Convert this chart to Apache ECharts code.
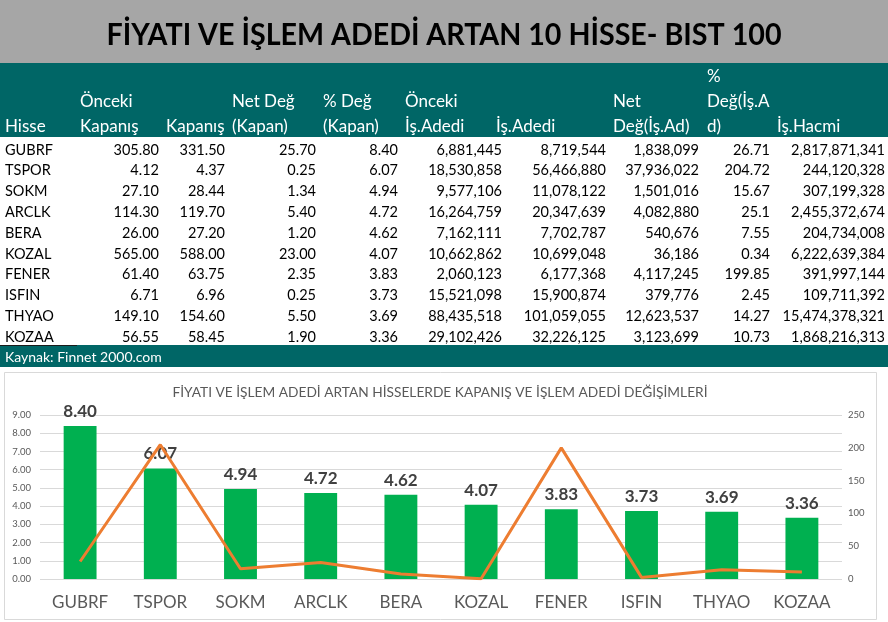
<!DOCTYPE html>
<html><head><meta charset="utf-8">
<script src="https://cdn.jsdelivr.net/npm/echarts@6/dist/echarts.min.js"></script>
<style>html,body{margin:0;padding:0;background:#fff}#c{width:888px;height:622px}</style>
</head><body><div id="c"></div>
<script>
// ---------- DATA ----------
const pageTitle = 'FİYATI VE İŞLEM ADEDİ ARTAN 10 HİSSE- BIST 100';
const chartTitle = 'FİYATI VE İŞLEM ADEDİ ARTAN HİSSELERDE KAPANIŞ VE İŞLEM ADEDİ DEĞİŞİMLERİ';
const sourceNote = 'Kaynak: Finnet 2000.com';
const categories = ['GUBRF', 'TSPOR', 'SOKM', 'ARCLK', 'BERA', 'KOZAL', 'FENER', 'ISFIN', 'THYAO', 'KOZAA'];
const prevClose = [305.80, 4.12, 27.10, 114.30, 26.00, 565.00, 61.40, 6.71, 149.10, 56.55];
const closePrice = [331.50, 4.37, 28.44, 119.70, 27.20, 588.00, 63.75, 6.96, 154.60, 58.45];
const netChgClose = [25.70, 0.25, 1.34, 5.40, 1.20, 23.00, 2.35, 0.25, 5.50, 1.90];
const pctChgClose = [8.40, 6.07, 4.94, 4.72, 4.62, 4.07, 3.83, 3.73, 3.69, 3.36];
const prevVolume = [6881445, 18530858, 9577106, 16264759, 7162111, 10662862, 2060123, 15521098, 88435518, 29102426];
const volume = [8719544, 56466880, 11078122, 20347639, 7702787, 10699048, 6177368, 15900874, 101059055, 32226125];
const netChgVolume = [1838099, 37936022, 1501016, 4082880, 540676, 36186, 4117245, 379776, 12623537, 3123699];
const pctChgVolume = [26.71, 204.72, 15.67, 25.1, 7.55, 0.34, 199.85, 2.45, 14.27, 10.73];
const turnover = [2817871341, 244120328, 307199328, 2455372674, 204734008, 6222639384, 391997144, 109711392, 15474378321, 1868216313];
const headerLabels = [
  ['', '', 'Hisse'],
  ['', 'Önceki', 'Kapanış'],
  ['', '', 'Kapanış'],
  ['', 'Net Değ', '(Kapan)'],
  ['', '% Değ', '(Kapan)'],
  ['', 'Önceki', 'İş.Adedi'],
  ['', '', 'İş.Adedi'],
  ['', 'Net', 'Değ(İş.Ad)'],
  ['%', 'Değ(İş.A', 'd)'],
  ['', '', 'İş.Hacmi']
];
const leftAxis = {min: 0, max: 9, interval: 1};
const rightAxis = {min: 0, max: 250, interval: 50};

// ---------- LAYOUT / STYLE ----------
const W = 888, H = 622;
const TEAL = '#006666', GRAY = '#a6a6a6';
const FONT = 'Lato';
const headerLeft = [5, 80, 166, 232, 323, 405, 496, 613, 707, 777];
const colRight = [null, 159, 225, 316, 398, 502, 606, 699, 770, 885];
const headerLineY = [77, 102, 127];
const rowY0 = 150, rowStep = 20.8;

const fmt2 = v => v.toFixed(2);
const fmtInt = v => v.toLocaleString('en-US');
const columns = [
  categories.map(String), prevClose.map(fmt2), closePrice.map(fmt2), netChgClose.map(fmt2),
  pctChgClose.map(fmt2), prevVolume.map(fmtInt), volume.map(fmtInt), netChgVolume.map(fmtInt),
  pctChgVolume.map(String), turnover.map(fmtInt)
];

const cv = document.createElement('canvas').getContext('2d');
function measure(text, font) { cv.font = font; return cv.measureText(text).width; }

const g = [];
g.push({type: 'rect', shape: {x: 0, y: 0, width: W, height: 63}, style: {fill: GRAY}, silent: true});
const titleFont = 'bold 31px ' + FONT;
const titleScale = 675 / measure(pageTitle, titleFont);
g.push({type: 'text', x: 444, y: 35, scaleX: titleScale, style: {text: pageTitle, font: titleFont, fill: '#000', align: 'center', verticalAlign: 'middle'}, silent: true});
g.push({type: 'rect', shape: {x: 0, y: 63, width: W, height: 74}, style: {fill: TEAL}, silent: true});
const headerFont = '17px ' + FONT;
const dataFont = '14.5px ' + FONT;
headerLabels.forEach((lines, c) => {
  lines.forEach((t, li) => {
    if (!t) return;
    g.push({type: 'text', x: headerLeft[c], y: headerLineY[li], style: {text: t, font: headerFont, fill: '#fff', align: 'left', verticalAlign: 'middle'}, silent: true});
  });
});
columns.forEach((col, c) => {
  col.forEach((t, r) => {
    const y = rowY0 + r * rowStep;
    if (c === 0) {
      g.push({type: 'text', x: 5, y: y, style: {text: t, font: dataFont, fill: '#000', align: 'left', verticalAlign: 'middle'}, silent: true});
    } else {
      g.push({type: 'text', x: colRight[c], y: y, style: {text: t, font: dataFont, fill: '#000', align: 'right', verticalAlign: 'middle'}, silent: true});
    }
  });
});
g.push({type: 'rect', shape: {x: 0, y: 345, width: W, height: 22}, style: {fill: TEAL}, silent: true});
g.push({type: 'line', shape: {x1: 0, y1: 345.5, x2: 77, y2: 345.5}, style: {stroke: '#1a1a1a', lineWidth: 1}, silent: true});
g.push({type: 'text', x: 5, y: 357, style: {text: sourceNote, font: '14px ' + FONT, fill: '#fff', align: 'left', verticalAlign: 'middle'}, silent: true});
// chart box
g.push({type: 'rect', z: -10, shape: {x: 4.5, y: 372.5, width: 872, height: 247}, style: {fill: '#fff', stroke: '#d9d9d9', lineWidth: 1}, silent: true});
const ctFont = '13px ' + FONT;
const ctScale = 535 / measure(chartTitle, ctFont);
g.push({type: 'text', x: 440, y: 393, scaleX: ctScale, style: {text: chartTitle, font: ctFont, fill: '#595959', align: 'center', verticalAlign: 'middle'}, silent: true});

const chart = echarts.init(document.getElementById('c'), null, {renderer: 'canvas'});
chart.setOption({
  animation: false,
  backgroundColor: '#fff',
  graphic: g,
  grid: {left: 40, right: 46, top: 415, bottom: 43, containLabel: false},
  xAxis: {
    type: 'category', data: categories,
    axisLine: {show: false}, axisTick: {show: false},
    axisLabel: {fontFamily: FONT, fontSize: 17, color: '#595959', margin: 15}
  },
  yAxis: [
    {type: 'value', min: leftAxis.min, max: leftAxis.max, interval: leftAxis.interval,
     axisLine: {show: false}, axisTick: {show: false},
     axisLabel: {fontFamily: FONT, fontSize: 9.5, color: '#595959', margin: 9, formatter: v => v.toFixed(2)},
     splitLine: {lineStyle: {color: '#d9d9d9', width: 1}}},
    {type: 'value', min: rightAxis.min, max: rightAxis.max, interval: rightAxis.interval, position: 'right',
     axisLine: {show: false}, axisTick: {show: false},
     axisLabel: {fontFamily: FONT, fontSize: 9.5, color: '#595959', margin: 6},
     splitLine: {show: false}}
  ],
  series: [
    {type: 'bar', name: '% Değ (Kapan)', data: pctChgClose, yAxisIndex: 0, barWidth: '41%',
     itemStyle: {color: '#00b050'},
     label: {show: true, position: 'top', distance: 6, fontFamily: FONT, fontSize: 17, fontWeight: 'bold', color: '#404040', formatter: p => p.value.toFixed(2)}},
    {type: 'line', name: '% Değ(İş.Ad)', data: pctChgVolume, yAxisIndex: 1, showSymbol: false, symbol: 'none',
     lineStyle: {color: '#ed7d31', width: 3}, z: 5}
  ]
});
</script></body></html>
